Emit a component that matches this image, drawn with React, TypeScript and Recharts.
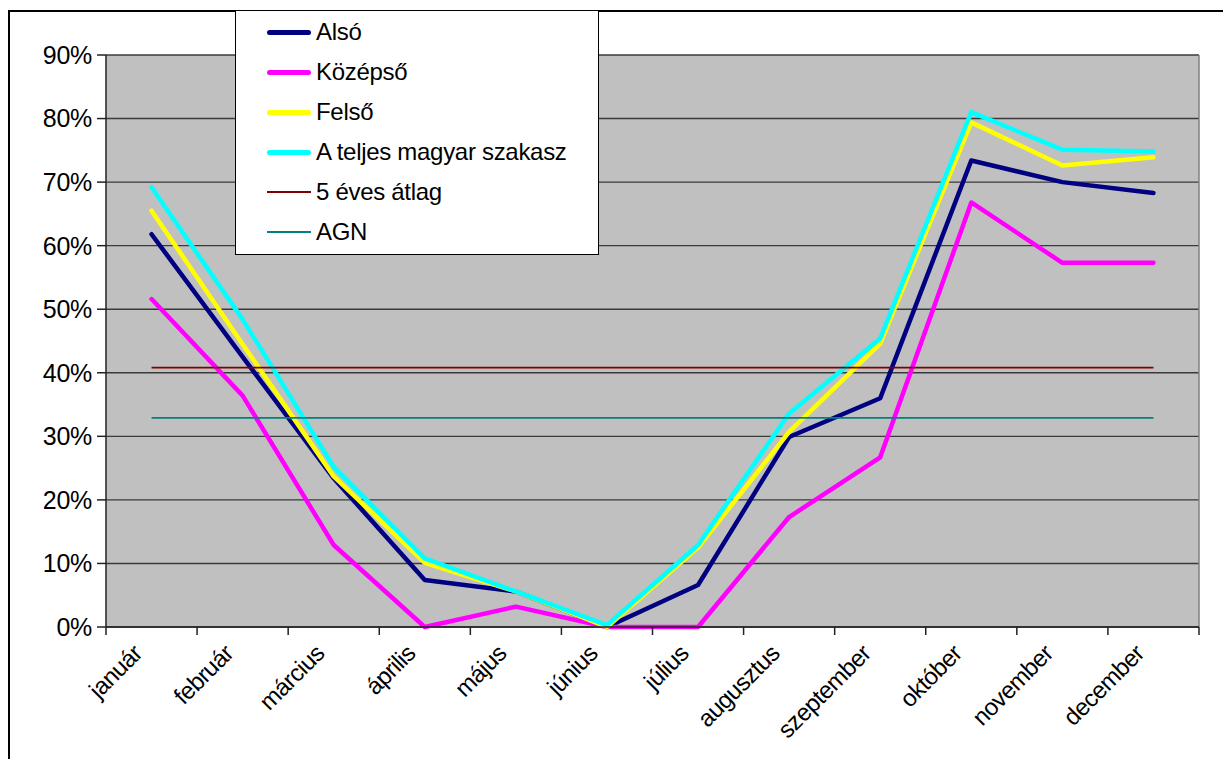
import React from 'react';
import { LineChart, Line, XAxis, YAxis, CartesianGrid, Legend } from 'recharts';

const months = ['január', 'február', 'március', 'április', 'május', 'június', 'július', 'augusztus', 'szeptember', 'október', 'november', 'december'];
const also = [0.618, 0.425, 0.234, 0.074, 0.056, 0.0, 0.066, 0.299, 0.36, 0.734, 0.7, 0.683];
const kozepso = [0.516, 0.364, 0.129, 0.0, 0.032, 0.0, 0.0, 0.173, 0.267, 0.668, 0.573, 0.573];
const felso = [0.655, 0.445, 0.237, 0.101, 0.056, 0.0, 0.125, 0.307, 0.446, 0.794, 0.726, 0.739];
const teljes = [0.692, 0.484, 0.252, 0.108, 0.056, 0.003, 0.129, 0.336, 0.454, 0.81, 0.751, 0.748];
const atlag5 = [0.408, 0.408, 0.408, 0.408, 0.408, 0.408, 0.408, 0.408, 0.408, 0.408, 0.408, 0.408];
const agn = [0.329, 0.329, 0.329, 0.329, 0.329, 0.329, 0.329, 0.329, 0.329, 0.329, 0.329, 0.329];
const yTicks = [0, 0.1, 0.2, 0.3, 0.4, 0.5, 0.6, 0.7, 0.8, 0.9];
const seriesNames = ['Alsó', 'Középső', 'Felső', 'A teljes magyar szakasz', '5 éves átlag', 'AGN'];

const data = months.map((m, i) => ({
  x: i + 0.5,
  month: m,
  also: also[i],
  kozepso: kozepso[i],
  felso: felso[i],
  teljes: teljes[i],
  atlag5: atlag5[i],
  agn: agn[i],
}));

const xTicks: number[] = [];
for (let i = 0; i <= 24; i++) xTicks.push(i / 2);

const FONT = '"Liberation Sans", Arial, sans-serif';

const XTick = (props: any) => {
  const { x, y, payload } = props;
  const v = payload.value;
  if (Number.isInteger(v)) {
    return <line x1={x} x2={x} y1={y - 8} y2={y} stroke="#222" strokeWidth={1.5} />;
  }
  const label = months[Math.floor(v)];
  const tx = x - 8;
  const ty = y + 20;
  return (
    <text x={tx} y={ty} transform={`rotate(-45, ${tx}, ${ty})`} textAnchor="end" fontSize={24} letterSpacing={-0.6} fontFamily={FONT} fill="#000">
      {label}
    </text>
  );
};

const LegendContent = (props: any) => {
  const payload = [...(props.payload || [])].sort(
    (a: any, b: any) => seriesNames.indexOf(a.value) - seriesNames.indexOf(b.value)
  );
  return (
    <div style={{ width: 364, height: 245, boxSizing: 'border-box', border: '1.5px solid #000', background: '#fff', position: 'relative' }}>
      {payload.map((p: any, i: number) => {
        const sw = p.payload && p.payload.strokeWidth ? p.payload.strokeWidth : 2;
        const thick = sw > 3;
        return (
          <div key={i} style={{ position: 'absolute', left: 31, top: 21 + i * 40 - 14, height: 28, display: 'flex', alignItems: 'center', whiteSpace: 'nowrap' }}>
            <div style={{ width: 44, height: thick ? 5 : 2, background: p.color, borderRadius: thick ? 3 : 0 }} />
            <span style={{ marginLeft: 5, fontSize: 24, letterSpacing: -0.3, fontFamily: FONT, color: '#000', lineHeight: '28px' }}>{p.value}</span>
          </div>
        );
      })}
    </div>
  );
};

export default function App() {
  return (
    <div style={{ position: 'relative', width: 1215, height: 751, overflow: 'hidden' }}>
      <div style={{ position: 'absolute', left: 0, top: 2, width: 1300, height: 900, borderTop: '2px solid #000', borderLeft: '2px solid #000' }} />
      <div style={{ position: 'absolute', left: 0, top: 0 }}>
        <LineChart width={1215} height={751} data={data} margin={{ top: 47, right: 24, bottom: 32, left: 0 }}>
          <CartesianGrid horizontal={true} vertical={false} fill="#C0C0C0" stroke="#3a3a3a" strokeWidth={1.4} />
          <CartesianGrid horizontal={false} vertical={true} stroke="#808080" strokeWidth={1.5}
            verticalCoordinatesGenerator={(p: any) => [p.offset.left + p.offset.width]} />
          <XAxis dataKey="x" type="number" domain={[0, 12]} ticks={xTicks} interval={0} height={100}
            tickLine={false} tickSize={8} tickMargin={0} axisLine={{ stroke: '#222', strokeWidth: 1.5 }} tick={<XTick />} />
          <YAxis type="number" domain={[0, 0.9]} ticks={yTicks} width={98} interval={0}
            tickFormatter={(v: number) => `${Math.round(v * 100)}%`}
            tickSize={9} tickMargin={5}
            axisLine={{ stroke: '#222', strokeWidth: 1.5 }} tickLine={{ stroke: '#222', strokeWidth: 1.5 }}
            tick={{ fontSize: 25, fontFamily: FONT, fill: '#000', letterSpacing: -0.3 }} />
          <Legend layout="vertical" align="center" verticalAlign="middle" content={<LegendContent />}
            wrapperStyle={{ position: 'absolute', left: 227, top: 2, width: 364, height: 245 }} />
          <Line type="linear" dataKey="also" name="Alsó" stroke="#000080" strokeWidth={4.5} dot={false} strokeLinecap="round" strokeLinejoin="round" isAnimationActive={false} />
          <Line type="linear" dataKey="kozepso" name="Középső" stroke="#FF00FF" strokeWidth={4.5} dot={false} strokeLinecap="round" strokeLinejoin="round" isAnimationActive={false} />
          <Line type="linear" dataKey="felso" name="Felső" stroke="#FFFF00" strokeWidth={4.5} dot={false} strokeLinecap="round" strokeLinejoin="round" isAnimationActive={false} />
          <Line type="linear" dataKey="teljes" name="A teljes magyar szakasz" stroke="#00FFFF" strokeWidth={4.5} dot={false} strokeLinecap="round" strokeLinejoin="round" isAnimationActive={false} />
          <Line type="linear" dataKey="atlag5" name="5 éves átlag" stroke="#800000" strokeWidth={1.8} dot={false} isAnimationActive={false} />
          <Line type="linear" dataKey="agn" name="AGN" stroke="#008080" strokeWidth={1.8} dot={false} isAnimationActive={false} />
        </LineChart>
      </div>
    </div>
  );
}
